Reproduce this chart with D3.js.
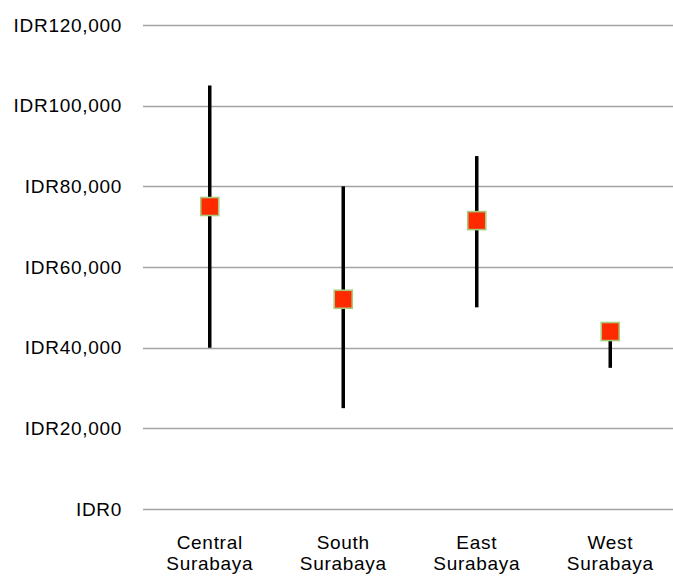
<!DOCTYPE html>
<html>
<head>
<meta charset="utf-8">
<script src="https://cdn.jsdelivr.net/npm/d3@7"></script>
<style>
  html, body { margin: 0; padding: 0; background: #fff; }
  svg { display: block; }
  text { font-family: "Liberation Sans", Arial, sans-serif; fill: #000; }
</style>
</head>
<body>
<svg id="chart" width="673" height="576"></svg>
<script>
// Price ranges by district (IDR)
const categories = ["Central Surabaya", "South Surabaya", "East Surabaya", "West Surabaya"];
const lowValues  = [40000, 25000, 50000, 35000];
const highValues = [105000, 80000, 87500, 46000];
const avgValues  = [75000, 52000, 71500, 44000];
const yTicks = [0, 20000, 40000, 60000, 80000, 100000, 120000];

const rows = categories.map((c, i) => ({ name: c, low: lowValues[i], high: highValues[i], avg: avgValues[i] }));

const svg = d3.select("#chart");
const plotLeft = 143, plotRight = 677, plotTop = 25, plotBottom = 509;
const fontSize = "19px";
const tracking = "0.7px";

const x = d3.scaleBand().domain(categories).range([plotLeft, plotRight]).padding(0);
const y = d3.scaleLinear().domain([0, 120000]).range([plotBottom, plotTop]);

const fmt = v => "IDR" + d3.format(",")(v);

// horizontal gridlines
svg.append("g").selectAll("line").data(yTicks).join("line")
  .attr("x1", plotLeft).attr("x2", 673)
  .attr("y1", d => Math.round(y(d)) + 0.5).attr("y2", d => Math.round(y(d)) + 0.5)
  .attr("stroke", "#a3a3a3").attr("stroke-width", 1.6);

// value axis labels
const yAxis = d3.axisLeft(y).tickValues(yTicks).tickFormat(fmt).tickSize(0).tickPadding(21);
const gy = svg.append("g").attr("transform", `translate(${plotLeft},0)`).call(yAxis);
gy.select(".domain").remove();
gy.selectAll("text")
  .style("font-size", fontSize)
  .style("letter-spacing", tracking)
  .style("font-family", "Liberation Sans, Arial, sans-serif")
  .attr("fill", "#000");

// category labels, split onto two lines
const gx = svg.append("g");
rows.forEach(r => {
  const cx = x(r.name) + x.bandwidth() / 2;
  const t = gx.append("text")
    .attr("text-anchor", "middle")
    .attr("x", cx)
    .attr("y", 549)
    .style("font-size", fontSize)
    .style("letter-spacing", tracking);
  r.name.split(" ").forEach((w, i) => {
    t.append("tspan").attr("x", cx).attr("dy", i === 0 ? 0 : 20.5).text(w);
  });
});

// high-low range bars
svg.append("g").selectAll("line").data(rows).join("line")
  .attr("x1", d => x(d.name) + x.bandwidth() / 2)
  .attr("x2", d => x(d.name) + x.bandwidth() / 2)
  .attr("y1", d => y(d.high))
  .attr("y2", d => y(d.low))
  .attr("stroke", "#000").attr("stroke-width", 3.5);

// average markers
const ms = 18;
svg.append("g").selectAll("rect").data(rows).join("rect")
  .attr("x", d => x(d.name) + x.bandwidth() / 2 - ms / 2)
  .attr("y", d => y(d.avg) - ms / 2)
  .attr("width", ms).attr("height", ms)
  .attr("fill", "#ff2a00")
  .attr("stroke", "#a9c97c").attr("stroke-width", 1.6);
</script>
</body>
</html>
